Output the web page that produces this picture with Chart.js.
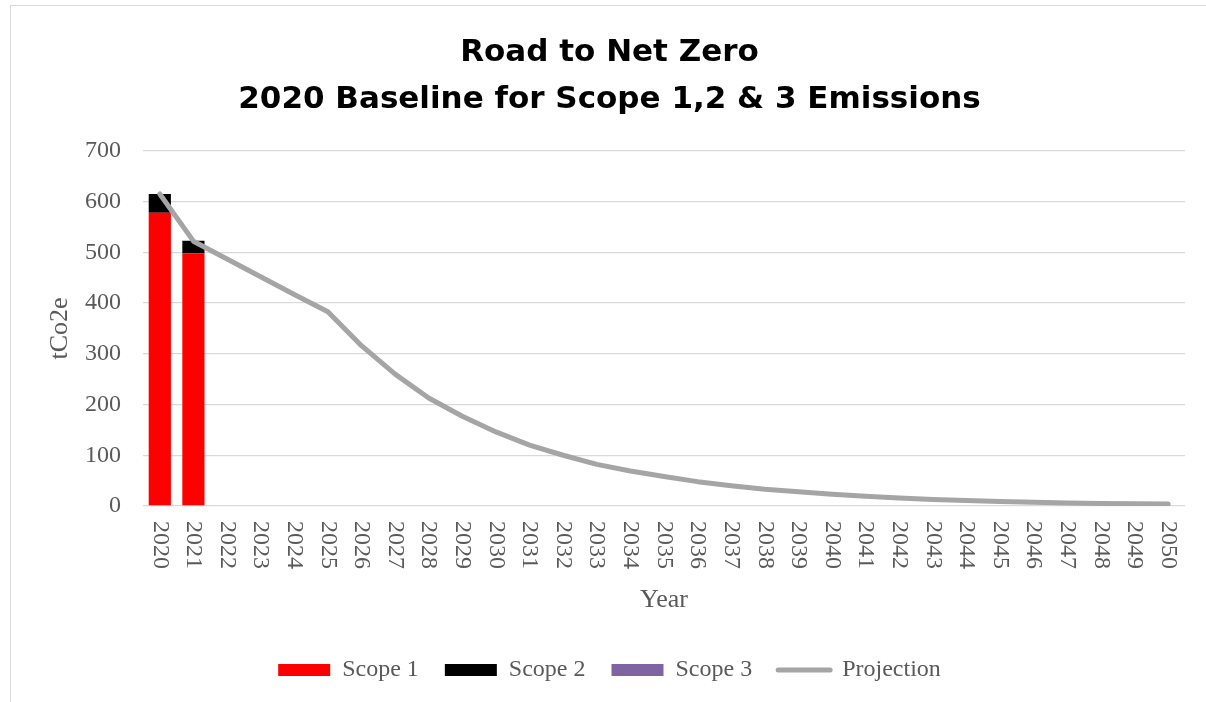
<!DOCTYPE html>
<html>
<head>
<meta charset="utf-8">
<script src="https://cdn.jsdelivr.net/npm/chart.js@4"></script>
<style>
  html, body { margin: 0; padding: 0; background: #fff; overflow: hidden; }
  #wrap { position: relative; width: 1206px; height: 702px; }
  #frame { position: absolute; left: 10px; top: 5px; width: 1300px; height: 800px; border: 1px solid #d9d9d9; pointer-events: none; }
</style>
</head>
<body>
<div id="wrap">
  <canvas id="chart" width="1206" height="702"></canvas>
  <div id="frame"></div>
</div>
<script>
const years = ['2020','2021','2022','2023','2024','2025','2026','2027','2028','2029','2030',
  '2031','2032','2033','2034','2035','2036','2037','2038','2039','2040',
  '2041','2042','2043','2044','2045','2046','2047','2048','2049','2050']

const scope1 = [578, 498]
const scope2 = [37, 25]
const scope3 = [0, 0]
const projection = [615, 522, 487, 452, 417, 383, 316, 260, 213, 177, 146,
  120, 100, 82, 69, 58, 48, 40, 33, 28, 23,
  19, 16, 13, 11, 9, 7.5, 6, 5, 4.5, 4]

const yTicks = [0, 100, 200, 300, 400, 500, 600, 700]

const tickFont = { family: '"Liberation Serif", serif', size: 24 }
const grey = '#595959'

// x labels read top-to-bottom, so they are painted here instead of by the scale
const yearLabels = {
  id: 'yearLabels',
  afterDraw(chart) {
    const scale = chart.scales.x
    const ctx = chart.ctx
    ctx.save()
    ctx.font = '24px "Liberation Serif"'
    ctx.fillStyle = grey
    ctx.textAlign = 'left'
    ctx.textBaseline = 'middle'
    scale.ticks.forEach((t, i) => {
      ctx.save()
      ctx.translate(scale.getPixelForTick(i), scale.top + 15)
      ctx.rotate(Math.PI / 2)
      ctx.fillText(scale.getLabelForValue(t.value), 0, 0)
      ctx.restore()
    })
    ctx.restore()
  }
}

new Chart(document.getElementById('chart'), {
  data: {
    labels: years,
    datasets: [
      { type: 'bar', label: 'Scope 1', data: scope1, backgroundColor: '#ff0000', order: 1 },
      { type: 'bar', label: 'Scope 2', data: scope2, backgroundColor: '#000000', order: 1 },
      { type: 'bar', label: 'Scope 3', data: scope3, backgroundColor: '#8064a2', order: 1 },
      { type: 'line', label: 'Projection', data: projection, stack: 'proj',
        borderColor: '#a5a5a5', backgroundColor: '#a5a5a5', borderWidth: 5,
        pointRadius: 0, tension: 0, borderCapStyle: 'round', borderJoinStyle: 'round', order: 0 }
    ]
  },
  options: {
    responsive: false,
    animation: false,
    events: [],
    layout: { padding: { left: 34, right: 21, top: 0, bottom: 10 } },
    datasets: { bar: { categoryPercentage: 1, barPercentage: 0.66 } },
    scales: {
      x: {
        stacked: true,
        grid: { display: false },
        border: { display: false },
        ticks: { display: false },
        afterFit(scale) { scale.height = 126 },
        title: { display: true, text: 'Year', color: grey,
          font: { family: '"Liberation Serif", serif', size: 26 }, padding: { top: 0, bottom: 16 } }
      },
      y: {
        stacked: true,
        min: 0, max: 700,
        afterBuildTicks(scale) { scale.ticks = yTicks.map(v => ({ value: v })) },
        grid: { color: '#d9d9d9', lineWidth: 1.3, drawTicks: false },
        border: { display: false },
        ticks: { color: grey, font: tickFont, padding: 22 },
        afterFit(scale) { scale.width = 109 },
        title: { display: true, text: 'tCo2e', color: grey,
          font: { family: '"Liberation Serif", serif', size: 26 }, padding: { top: 11, bottom: 0 } }
      }
    },
    plugins: {
      title: {
        display: true,
        text: ['Road to Net Zero', '2020 Baseline for Scope 1,2 & 3 Emissions'],
        color: '#000',
        font: { family: '"DejaVu Sans", sans-serif', size: 31, weight: 'bold', lineHeight: 1.53 },
        padding: { top: 29, bottom: 27 }
      },
      legend: {
        position: 'bottom',
        labels: {
          usePointStyle: true,
          pointStyleWidth: 52,
          boxWidth: 52,
          boxHeight: 12,
          padding: 26,
          color: grey,
          font: { family: '"Liberation Serif", serif', size: 24 },
          generateLabels(chart) {
            const items = Chart.defaults.plugins.legend.labels.generateLabels(chart)
            items.sort((a, b) => a.datasetIndex - b.datasetIndex)
            items.forEach(it => {
              const ds = chart.data.datasets[it.datasetIndex]
              if (ds.type === 'line') {
                it.pointStyle = 'line'
                it.lineWidth = 5
                it.lineCap = 'round'
                it.strokeStyle = ds.borderColor
              } else {
                it.pointStyle = 'rect'
                it.lineWidth = 0
              }
            })
            return items
          }
        }
      },
      tooltip: { enabled: false }
    }
  },
  plugins: [yearLabels]
})
</script>
</body>
</html>
